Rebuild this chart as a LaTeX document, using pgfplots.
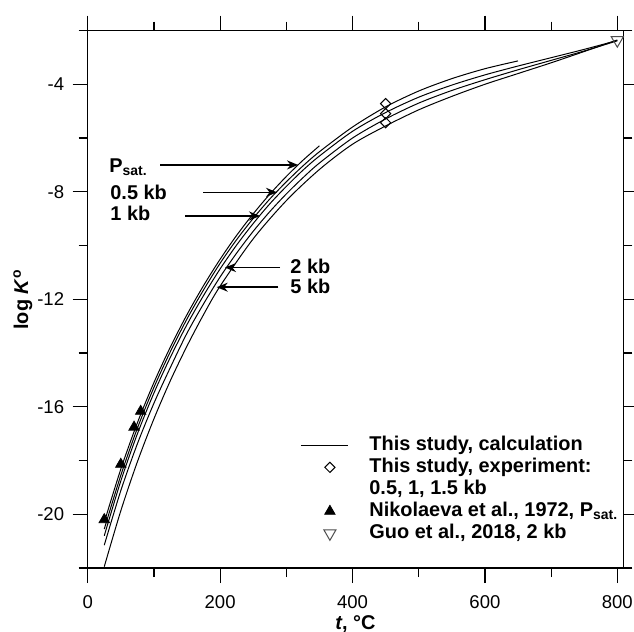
\documentclass[border=0pt]{standalone}
\usepackage{fontspec}
\setmainfont{Liberation Sans}
\usepackage{pgfplots}
\pgfplotsset{compat=1.18}
\usetikzlibrary{arrows.meta}

\pgfplotsset{
  lineleg/.style={legend image code/.code={\draw[##1] (0bp,0bp) -- (23.5bp,0bp); \path (34bp,0bp);}},
  markleg/.style={legend image code/.code={\path (0bp,0bp) (34bp,0bp);
      \draw[mark repeat=2,mark phase=2,##1] plot coordinates {(0bp,0bp) (14.5bp,0bp) (29bp,0bp)};}},
}

\pgfplotstableread{
x y
25 -20.30
50 -18.32
75 -16.60
100 -15.10
125 -13.77
150 -12.57
175 -11.49
200 -10.51
225 -9.62
250 -8.82
275 -8.09
300 -7.43
325 -6.83
350 -6.29
}\psat

\pgfplotstableread{
x y
25 -20.55
50 -18.55
75 -16.80
100 -15.28
125 -13.94
150 -12.73
175 -11.65
200 -10.66
225 -9.78
250 -8.99
275 -8.27
300 -7.63
325 -7.04
350 -6.51
400 -5.59
450 -4.84
500 -4.25
550 -3.79
600 -3.42
650 -3.13
}\pfive

\pgfplotstableread{
x y
25 -20.80
50 -18.76
75 -17.01
100 -15.49
125 -14.15
150 -12.94
175 -11.86
200 -10.87
225 -9.98
250 -9.18
275 -8.45
300 -7.80
325 -7.20
350 -6.67
400 -5.75
450 -5.05
500 -4.48
550 -4.03
600 -3.65
650 -3.32
700 -3.01
750 -2.70
800 -2.37
}\pone

\pgfplotstableread{
x y
25 -21.15
50 -19.12
75 -17.38
100 -15.87
125 -14.53
150 -13.26
175 -12.17
200 -11.17
225 -10.28
250 -9.47
275 -8.74
300 -8.08
325 -7.48
350 -6.93
400 -6.00
450 -5.29
500 -4.70
550 -4.23
600 -3.83
650 -3.46
700 -3.11
750 -2.76
800 -2.38
}\ptwo

\pgfplotstableread{
x y
25 -21.95
50 -19.87
75 -18.05
100 -16.45
125 -15.02
150 -13.74
175 -12.57
200 -11.51
250 -9.75
300 -8.33
350 -7.17
400 -6.23
450 -5.55
500 -4.95
550 -4.45
600 -4.00
650 -3.60
700 -3.20
750 -2.78
800 -2.35
}\pfivekb

\begin{document}
\begin{tikzpicture}
\begin{axis}[
  scale only axis, width=267.8bp, height=268.75bp,
  xmin=0, xmax=809, ymin=-22, ymax=-2,
  xtick={0,200,...,800}, minor xtick={100,300,500,700},
  ytick={-20,-16,...,-4}, minor ytick={-22,-18,...,-2},
  tick align=outside, major tick length=7.5bp, minor tick length=4.5bp,
  every tick/.style={black, line width=0.6bp},
  axis line style={line width=0.6bp},
  /pgf/number format/assume math mode=true,
  tick label style={font=\fontsize{9.3}{10}\selectfont},
  xticklabel style={yshift=-2.5bp},
  yticklabel style={xshift=-0.8bp},
  xlabel={\textbf{\textit{t}, °C}},
  ylabel={\textbf{log \textit{K}\textsuperscript{o}}},
  label style={font=\fontsize{10}{12}\selectfont},
  xlabel style={at={(axis description cs:0.5,0)}, anchor=base, yshift=-30.5bp},
  ylabel style={at={(axis description cs:0,0.5)}, anchor=center, yshift=32.4bp},
  clip=false,
  legend style={draw=none, fill=none, at={(axis cs:320.7,-17.01)}, anchor=north west,
    inner sep=0pt, column sep=0pt, row sep=0pt,
    font=\bfseries\fontsize{10}{11}\selectfont,
    nodes={inner xsep=0pt, inner ysep=0.5bp, text height=7.5bp, text depth=2.5bp}},
  legend cell align=left,
]
\addplot[black, line width=0.5bp, smooth, lineleg] table[x=x,y=y] {\psat};
\addlegendentry{This study, calculation}
\addplot[black, line width=0.5bp, smooth, forget plot] table[x=x,y=y] {\pfive};
\addplot[black, line width=0.5bp, smooth, forget plot] table[x=x,y=y] {\pone};
\addplot[black, line width=0.5bp, smooth, forget plot] table[x=x,y=y] {\ptwo};
\addplot[black, line width=0.5bp, smooth, forget plot] table[x=x,y=y] {\pfivekb};

\addplot[only marks, mark=square, mark size=1.8bp, mark options={rotate=45, black, fill=white, line width=0.5bp}, markleg]
  coordinates {(450,-4.72) (450,-5.09) (450,-5.43)};
\addlegendentry{This study, experiment:}
\addlegendimage{empty legend}
\addlegendentry{0.5, 1, 1.5 kb}
\addplot[only marks, mark=triangle*, mark size=3bp, mark options={black, fill=black}, markleg]
  coordinates {(25,-20.2) (50,-18.14) (70,-16.76) (80,-16.17)};
\addlegendentry{Nikolaeva et al., 1972, P\textsubscript{sat.}}
\addplot[only marks, mark=triangle, mark size=3.5bp, mark options={rotate=180, black!70, fill=white, line width=0.5bp}, markleg]
  coordinates {(800,-2.36)};
\addlegendentry{Guo et al., 2018, 2 kb}

\begin{scope}[line width=0.75bp, -{Stealth[length=5.5bp, width=4.5bp]}]
\draw (axis cs:109.2,-7.00) -- (axis cs:317.7,-7.00);
\draw (axis cs:174.6,-8.02) -- (axis cs:286,-8.02);
\draw (axis cs:147,-8.90) -- (axis cs:260.3,-8.90);
\draw (axis cs:290.5,-10.82) -- (axis cs:207.4,-10.82);
\draw (axis cs:288,-11.55) -- (axis cs:194.9,-11.55);
\end{scope}
\begin{scope}[every node/.style={anchor=base west, inner sep=0pt, font=\bfseries\fontsize{10}{12}\selectfont}]
\node at (axis cs:32.2,-7.30) {P\textsubscript{sat.}};
\node at (axis cs:33.7,-8.27) {0.5 kb};
\node at (axis cs:33.7,-9.05) {1 kb};
\node at (axis cs:305.6,-11.03) {2 kb};
\node at (axis cs:305.6,-11.80) {5 kb};
\end{scope}
\coordinate (bbll) at (axis cs:-132.5,-24.38);
\coordinate (bbur) at (axis cs:825.2,-0.863);
\end{axis}
\pgfresetboundingbox
\path[use as bounding box] (bbll) rectangle (bbur);
\end{tikzpicture}
\end{document}
